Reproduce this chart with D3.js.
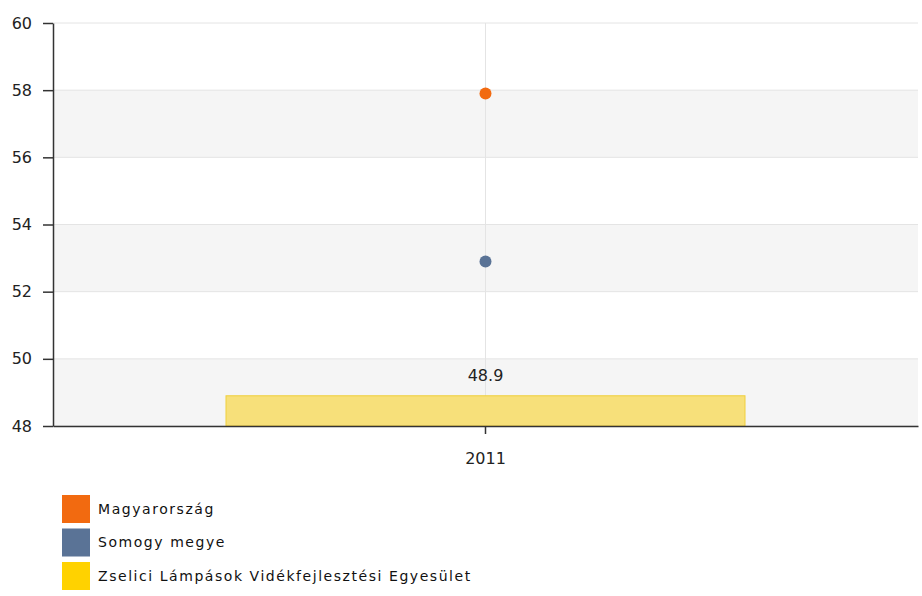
<!DOCTYPE html>
<html>
<head>
  <meta charset="utf-8">
  <style type="text/css">
  body {
    margin: 0;
    background: #fff;
  }
  svg text {
    font-family: "DejaVu Sans", Verdana, sans-serif;
  }
  .axis text {
    font-size: 16px;
    fill: #222;
  }
  .axis path, .axis line {
    stroke: #333;
  }
  .legend text {
    font-size: 14px;
    letter-spacing: 1.55px;
    fill: #111;
  }
  </style>
</head>
<body>
  <script src="https://d3js.org/d3.v7.min.js"></script>
  <script>
    var categories = ["2011"];
    var seriesNames = ["Magyarország", "Somogy megye", "Zselici Lámpások Vidékfejlesztési Egyesület"];
    var seriesColors = ["#f26a10", "#5a7396", "#ffd200"];
    var pointValues = [57.9, 52.9];   // Magyarország, Somogy megye
    var barValues = [48.9];           // Zselici Lámpások ...
    var yTicks = [48, 50, 52, 54, 56, 58, 60];

    var margin = {top: 23, right: 4, bottom: 170, left: 53};
    var W = 922, H = 596;
    var width = W - margin.left - margin.right,
        height = H - margin.top - margin.bottom;

    var x = d3.scaleBand()
        .domain(categories)
        .range([0, width]);
    var y = d3.scaleLinear()
        .domain([48, 60])
        .range([height, 0]);

    var svg = d3.select("body").append("svg")
        .attr("width", W)
        .attr("height", H)
      .append("g")
        .attr("transform", "translate(" + margin.left + "," + margin.top + ")");

    // alternating bands
    for (var i = 0; i < yTicks.length - 1; i += 2) {
      svg.append("rect")
          .attr("x", 0)
          .attr("width", width)
          .attr("y", y(yTicks[i + 1]))
          .attr("height", y(yTicks[i]) - y(yTicks[i + 1]))
          .attr("fill", "#f5f5f5");
    }
    // horizontal grid
    svg.selectAll(".hgrid")
        .data(yTicks)
      .enter().append("line")
        .attr("class", "hgrid")
        .attr("x1", 0).attr("x2", width)
        .attr("y1", function(d) { return y(d); })
        .attr("y2", function(d) { return y(d); })
        .attr("stroke", "#e4e4e4");
    // vertical grid
    svg.selectAll(".vgrid")
        .data(categories)
      .enter().append("line")
        .attr("class", "vgrid")
        .attr("x1", function(d) { return x(d) + x.bandwidth() / 2; })
        .attr("x2", function(d) { return x(d) + x.bandwidth() / 2; })
        .attr("y1", 0).attr("y2", height)
        .attr("stroke", "#e4e4e4");

    // bar
    var bw = x.bandwidth() * 0.6;
    svg.selectAll(".bar")
        .data(barValues)
      .enter().append("rect")
        .attr("class", "bar")
        .attr("x", function(d, i) { return x(categories[i]) + x.bandwidth() / 2 - bw / 2; })
        .attr("width", bw)
        .attr("y", function(d) { return y(d); })
        .attr("height", function(d) { return height - y(d); })
        .attr("fill", "#f7e07a")
        .attr("stroke", "#f0cf3c")
        .attr("stroke-width", 1);
    svg.selectAll(".barlabel")
        .data(barValues)
      .enter().append("text")
        .attr("x", function(d, i) { return x(categories[i]) + x.bandwidth() / 2; })
        .attr("y", function(d) { return y(d) - 20; })
        .attr("dy", "0.35em")
        .attr("text-anchor", "middle")
        .attr("font-size", "16px")
        .attr("fill", "#222")
        .text(function(d) { return d.toFixed(1); });

    // points
    svg.selectAll(".pt")
        .data(pointValues)
      .enter().append("circle")
        .attr("class", "pt")
        .attr("cx", x(categories[0]) + x.bandwidth() / 2)
        .attr("cy", function(d) { return y(d); })
        .attr("r", 6)
        .attr("fill", function(d, i) { return seriesColors[i]; });

    // axes
    svg.append("g")
        .attr("class", "y axis")
        .call(d3.axisLeft(y).tickValues(yTicks).tickSize(10).tickPadding(11).tickSizeOuter(0));
    svg.append("g")
        .attr("class", "x axis")
        .attr("transform", "translate(0," + height + ")")
        .call(d3.axisBottom(x).tickSize(8).tickPadding(19).tickSizeOuter(0));
    svg.selectAll(".axis path").attr("stroke-width", 1.5);
    svg.selectAll(".axis line").attr("stroke-width", 1.5);

    // legend
    var legend = d3.select("svg").append("g")
        .attr("class", "legend")
        .attr("transform", "translate(62,495)");
    var item = legend.selectAll("g")
        .data(seriesNames)
      .enter().append("g")
        .attr("transform", function(d, i) { return "translate(0," + (i * 33.5) + ")"; });
    item.append("rect")
        .attr("width", 28)
        .attr("height", 28)
        .attr("fill", function(d, i) { return seriesColors[i]; });
    item.append("text")
        .attr("x", 36)
        .attr("y", 14)
        .attr("dy", "0.35em")
        .text(function(d) { return d; });
  </script>
</body>
</html>
